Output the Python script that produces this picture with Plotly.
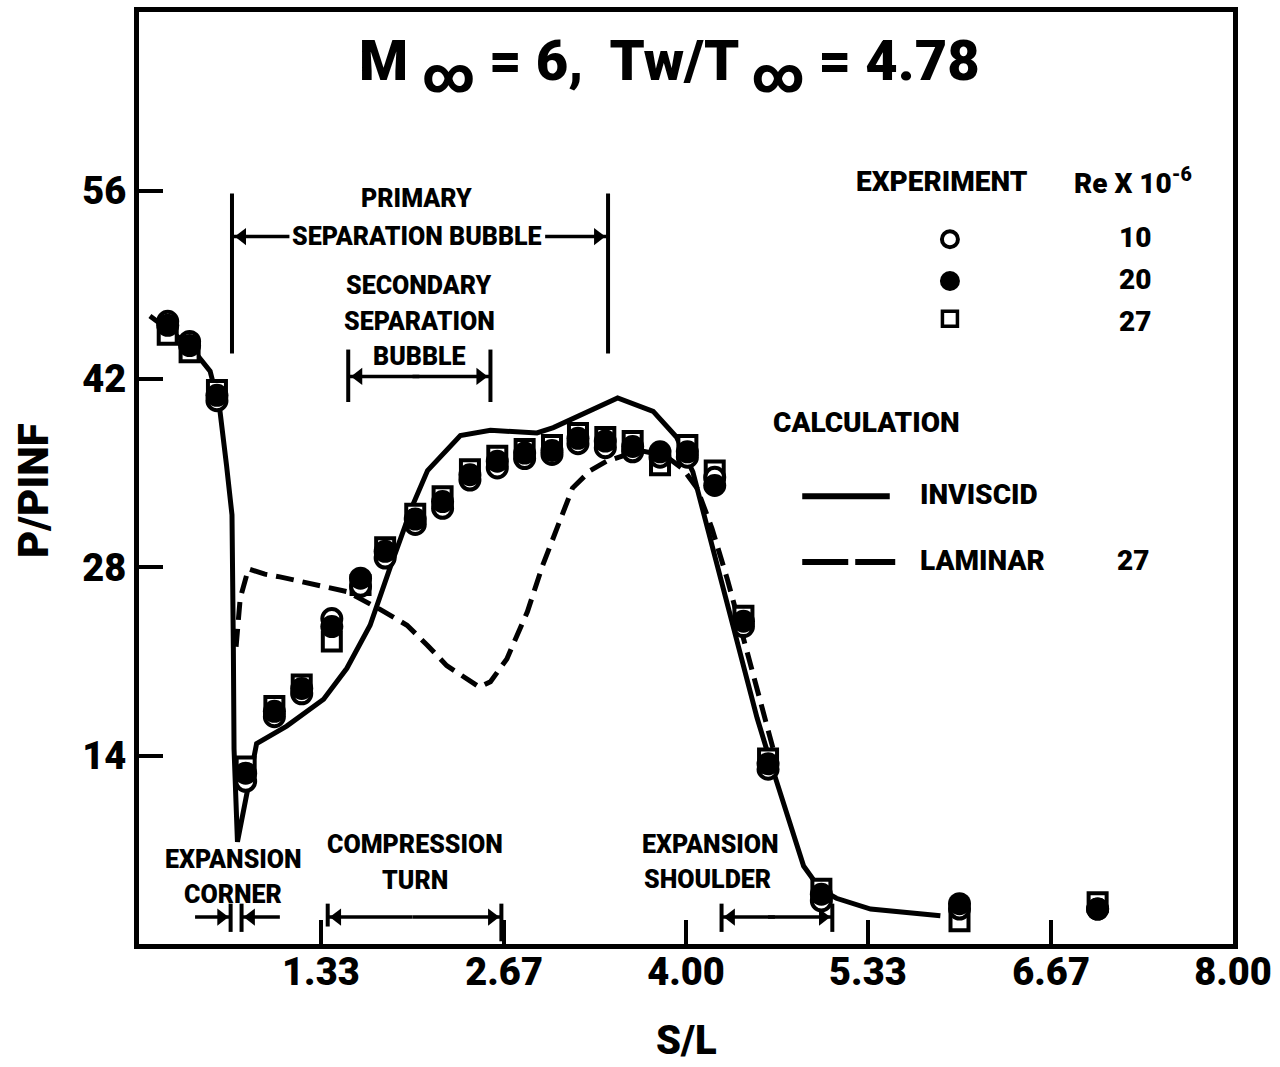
import plotly.graph_objects as go

FONT = "Roboto, Liberation Sans, sans-serif"
W = 900  # heavy weight for all lettering

# ---- Calculation curves ----
inviscid_s = [0.08, 0.37, 0.52, 0.59, 0.64, 0.68, 0.69, 0.695, 0.72, 0.79, 0.86, 1.08, 1.35, 1.52, 1.69,
              1.84, 2.00, 2.11, 2.35, 2.57, 2.91, 3.03, 3.28, 3.50, 3.76, 3.93, 4.05, 4.32, 4.52,
              4.64, 4.86, 4.98, 5.10, 5.35, 5.86]
inviscid_p = [46.7, 44.5, 42.6, 39.8, 35.6, 31.9, 22.0, 14.5, 7.6, 11.5, 14.9, 16.2, 18.2, 20.5, 23.7,
              28.1, 32.6, 35.2, 37.8, 38.2, 38.0, 38.4, 39.6, 40.6, 39.6, 37.7, 35.1, 24.7, 16.8,
              12.8, 5.8, 4.1, 3.4, 2.6, 2.1]

laminar_s = [0.71, 0.74, 0.80, 0.92, 1.03, 1.27, 1.52, 1.76, 1.96, 2.11, 2.25, 2.49, 2.57, 2.69, 2.84,
             2.95, 3.08, 3.17, 3.30, 3.42, 3.66, 3.85, 3.98, 4.08, 4.19, 4.30, 4.45, 4.56, 4.64]
laminar_p = [22.1, 25.7, 27.9, 27.5, 27.3, 26.8, 26.2, 24.9, 23.7, 22.2, 20.7, 19.1, 19.5, 21.2, 24.7,
             28.1, 31.4, 33.9, 35.2, 35.9, 36.7, 36.3, 35.3, 33.9, 30.9, 27.2, 21.6, 17.3, 14.4]

# ---- Experimental data ----
exp_s = [0.21, 0.37, 0.57, 0.78, 0.99, 1.19, 1.41, 1.62, 1.80, 2.02, 2.22, 2.42, 2.62, 2.82, 3.02,
         3.21, 3.41, 3.61, 3.81, 4.01, 4.21, 4.42, 4.60, 4.99, 6.00, 7.01]
re10_p = [46.3, 44.8, 40.4, 12.1, 16.9, 18.6, 24.2, 26.6, 28.7, 31.2, 32.4, 34.5, 35.4, 36.1, 36.4,
          37.2, 36.9, 36.6, 36.2, 36.2, 34.7, 23.6, 13.0, 3.2, 2.6, 2.6]
re20_p = [46.0, 44.5, 40.8, 12.7, 17.3, 19.0, 23.6, 27.2, 29.2, 31.6, 32.9, 34.9, 35.9, 36.5, 36.7,
          37.6, 37.4, 37.0, 36.6, 36.6, 34.1, 24.0, 13.4, 3.7, 3.0, 2.6]
re27_p = [45.3, 44.0, 41.2, 13.2, 17.7, 19.3, 22.5, 26.7, 29.5, 32.0, 33.3, 35.3, 36.3, 36.8, 37.1,
          38.0, 37.7, 37.4, 35.6, 37.1, 35.2, 24.4, 13.8, 4.1, 1.7, 3.1]

x_ticks = [1.33, 2.67, 4.00, 5.33, 6.67, 8.00]
x_tick_text = ["1.33", "2.67", "4.00", "5.33", "6.67", "8.00"]
y_ticks = [14, 28, 42, 56]

fig = go.Figure()

fig.add_trace(go.Scatter(x=laminar_s, y=laminar_p, mode="lines",
                         line=dict(color="black", width=5, dash="18px,9px")))
fig.add_trace(go.Scatter(x=inviscid_s, y=inviscid_p, mode="lines",
                         line=dict(color="black", width=5)))

sq_marker = dict(symbol="square", size=18, color="white", line=dict(color="black", width=4))
open_marker = dict(symbol="circle", size=19, color="white", line=dict(color="black", width=4))
fill_marker = dict(symbol="circle", size=23, color="black", line=dict(color="black", width=0))

fig.add_trace(go.Scatter(x=exp_s, y=re27_p, mode="markers", marker=sq_marker))
fig.add_trace(go.Scatter(x=exp_s, y=re10_p, mode="markers", marker=open_marker))
fig.add_trace(go.Scatter(x=exp_s, y=re20_p, mode="markers", marker=fill_marker))

# ---- Legend block (drawn in data space) ----
fig.add_trace(go.Scatter(x=[5.93], y=[52.4], mode="markers",
                         marker=dict(open_marker, size=16)))
fig.add_trace(go.Scatter(x=[5.93], y=[49.3], mode="markers",
                         marker=dict(fill_marker, size=20)))
fig.add_trace(go.Scatter(x=[5.93], y=[46.5], mode="markers",
                         marker=dict(sq_marker, size=15, line=dict(color="black", width=3.5))))
fig.add_trace(go.Scatter(x=[4.85, 5.49], y=[33.3, 33.3], mode="lines",
                         line=dict(color="black", width=6)))
fig.add_trace(go.Scatter(x=[4.85, 5.53], y=[28.4, 28.4], mode="lines",
                         line=dict(color="black", width=6, dash="46px,7px")))


def label(x, y, text, size=25, xanchor="center"):
    fig.add_annotation(x=x, y=y, text=text, showarrow=False, xanchor=xanchor,
                       yanchor="middle", font=dict(family=FONT, size=size, color="black", weight=W))


def vbar(x, y0, y1, w=4):
    fig.add_shape(type="line", x0=x, x1=x, y0=y0, y1=y1, line=dict(color="black", width=w))


head_x, head_y, head_sym = [], [], []


def arrow(x_tip, x_tail, y):
    # shaft as a shape, head as a triangle marker just inside the tip
    fig.add_shape(type="line", x0=x_tail, x1=x_tip, y0=y, y1=y, line=dict(color="black", width=3.5))
    right = x_tip > x_tail
    head_x.append(x_tip - 0.065 if right else x_tip + 0.065)
    head_y.append(y)
    head_sym.append("triangle-right" if right else "triangle-left")


# Legend text
label(5.87, 56.7, "EXPERIMENT", size=28)
label(7.27, 56.7, "Re X 10<sup>-6</sup>", size=28)
label(7.28, 52.5, "10", size=28)
label(7.28, 49.4, "20", size=28)
label(7.28, 46.3, "27", size=28)
label(5.32, 38.8, "CALCULATION", size=28)
label(5.70, 33.4, "INVISCID", size=28, xanchor="left")
label(5.70, 28.5, "LAMINAR", size=28, xanchor="left")
label(7.27, 28.5, "27", size=28)

# Primary separation bubble
label(2.03, 55.4, "PRIMARY")
label(2.03, 52.6, "SEPARATION BUBBLE")
vbar(0.68, 43.9, 55.8)
vbar(3.43, 43.9, 55.8)
arrow(0.69, 1.10, 52.6)
arrow(3.42, 2.97, 52.6)

# Secondary separation bubble
label(2.05, 49.0, "SECONDARY")
label(2.05, 46.3, "SEPARATION")
label(2.05, 43.7, "BUBBLE")
vbar(1.53, 40.3, 44.2)
vbar(2.57, 40.3, 44.2)
arrow(1.54, 2.05, 42.2)
arrow(2.56, 2.0, 42.2)

# Expansion corner
label(0.69, 6.3, "EXPANSION")
label(0.69, 3.7, "CORNER")
vbar(0.67, 0.9, 3.0)
vbar(0.75, 0.9, 3.0)
arrow(0.665, 0.41, 2.0)
arrow(0.755, 1.03, 2.0)

# Compression turn
label(2.02, 7.4, "COMPRESSION")
label(2.02, 4.7, "TURN")
vbar(1.38, 1.3, 3.0)
vbar(2.65, 0.2, 3.0)
arrow(1.385, 2.0, 2.0)
arrow(2.645, 2.0, 2.0)

# Expansion shoulder
label(4.18, 7.4, "EXPANSION")
label(4.16, 4.8, "SHOULDER")
vbar(4.26, 0.9, 3.0)
vbar(5.07, 0.9, 3.0)
arrow(4.265, 4.65, 2.0)
arrow(5.065, 4.6, 2.0)

fig.add_trace(go.Scatter(x=head_x, y=head_y, mode="markers",
                         marker=dict(symbol=head_sym, size=15, color="black")))

# Title
fig.add_annotation(x=0.485, y=65.3, xref="paper", yref="y", showarrow=False,
                   text="M <sub><span style='font-size:50px'>∞</span></sub> = 6,  "
                        "Tw/T <sub><span style='font-size:50px'>∞</span></sub> = 4.78",
                   font=dict(family=FONT, size=56, color="black", weight=W))

# Axis titles
fig.add_annotation(x=0.5, y=-0.104, xref="paper", yref="paper", showarrow=False,
                   text="S/L", yanchor="middle",
                   font=dict(family=FONT, size=40, color="black", weight=W))
fig.add_annotation(x=-0.097, y=0.487, xref="paper", yref="paper", showarrow=False,
                   text="P/PINF", textangle=-90, xanchor="center", yanchor="middle",
                   font=dict(family=FONT, size=42, color="black", weight=W))

fig.update_layout(
    width=1280, height=1067,
    margin=dict(l=139, r=47, t=12, b=123),
    paper_bgcolor="white", plot_bgcolor="white",
    showlegend=False,
    font=dict(family=FONT, color="black", weight=W),
)
fig.update_xaxes(range=[0, 8], tickvals=x_ticks, ticktext=x_tick_text, automargin=False,
                 ticks="inside", ticklen=24, tickwidth=4, tickcolor="black",
                 ticklabelstandoff=-10,
                 showline=True, linewidth=5, linecolor="black", mirror=True,
                 showgrid=False, zeroline=False,
                 tickfont=dict(family=FONT, size=38, color="black", weight=W))
fig.update_yaxes(range=[0, 69.3], tickvals=y_ticks, ticktext=[str(t) for t in y_ticks], automargin=False,
                 ticks="inside", ticklen=24, tickwidth=4, tickcolor="black",
                 showline=True, linewidth=5, linecolor="black", mirror=True,
                 showgrid=False, zeroline=False,
                 tickfont=dict(family=FONT, size=38, color="black", weight=W))

fig.write_html("out.html")
